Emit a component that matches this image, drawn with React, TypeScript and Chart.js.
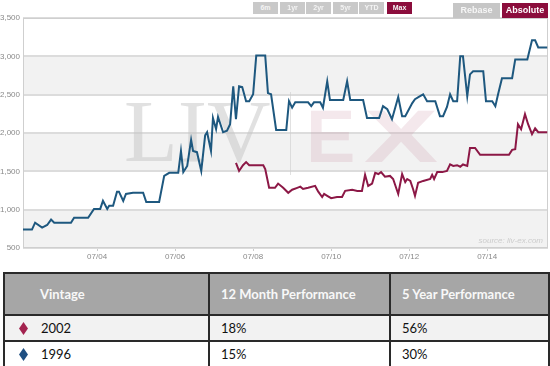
import React, { useEffect, useRef } from "react";
import { Chart, registerables } from "chart.js";

Chart.register(...registerables);

// ---- data (x = decimal year, y = price) ----
const vintage1996Dates = [
  2002.6, 2002.83, 2002.91, 2003.09, 2003.22, 2003.32, 2003.4, 2003.83, 2003.91, 2004.27,
  2004.42, 2004.58, 2004.65, 2004.76, 2004.81, 2004.91, 2005.01, 2005.06, 2005.17, 2005.24,
  2005.42, 2005.68, 2005.76, 2006.09, 2006.22, 2006.35, 2006.58, 2006.65, 2006.71, 2006.81,
  2006.91, 2006.96, 2007.06, 2007.17, 2007.27, 2007.32, 2007.42, 2007.47, 2007.55, 2007.6,
  2007.73, 2007.83, 2007.91, 2007.99, 2008.06, 2008.14, 2008.22, 2008.32, 2008.4, 2008.5,
  2008.58, 2008.81, 2008.88, 2008.96, 2009.09, 2009.35, 2009.42, 2009.5, 2009.58, 2009.91,
  2009.99, 2010.06, 2010.22, 2010.29, 2010.4, 2010.47, 2010.81, 2010.91, 2010.99, 2011.32,
  2011.42, 2011.73, 2011.83, 2011.94, 2012.06, 2012.22, 2012.32, 2012.4, 2012.58, 2012.65,
  2012.78, 2012.86, 2012.96, 2013.17, 2013.29, 2013.37, 2013.47, 2013.55, 2013.63, 2013.73,
  2013.81, 2013.88, 2013.99, 2014.06, 2014.14, 2014.4, 2014.47, 2014.63, 2014.71, 2014.78,
  2014.88, 2015.14, 2015.22, 2015.53, 2015.65, 2015.73, 2015.81, 2016.04,
];
const vintage1996Values = [
  740, 740, 830, 765, 800, 870, 830, 830, 895, 895,
  1010, 1010, 1115, 1010, 1050, 1050, 1235, 1235, 1115, 1205,
  1220, 1220, 1100, 1100, 1440, 1480, 1480, 1765, 1490, 1570,
  1910, 1765, 1750, 1505, 1970, 2010, 1765, 2195, 2050, 2210,
  2010, 2030, 2115, 2610, 2180, 2610, 2600, 2415, 2415, 2505,
  3010, 3010, 2520, 2505, 2040, 2040, 2415, 2330, 2400, 2400,
  2350, 2400, 2400, 2330, 2675, 2430, 2430, 2675, 2430, 2430,
  2195, 2195, 2350, 2310, 2180, 2470, 2220, 2220, 2390, 2440,
  2480, 2505, 2415, 2415, 2220, 2220, 2340, 2505, 2415, 2415,
  3000, 3000, 2480, 2765, 2805, 2805, 2415, 2415, 2350, 2505,
  2715, 2715, 2960, 2960, 3210, 3210, 3115, 3115,
];

const vintage2002Dates = [
  2008.06, 2008.14, 2008.24, 2008.32, 2008.4, 2008.76, 2008.81, 2008.91, 2009.06, 2009.14,
  2009.27, 2009.4, 2009.5, 2009.63, 2009.71, 2009.78, 2009.91, 2010.09, 2010.17, 2010.27,
  2010.32, 2010.4, 2010.5, 2010.65, 2010.78, 2010.86, 2011.04, 2011.17, 2011.29, 2011.37,
  2011.45, 2011.55, 2011.63, 2011.71, 2011.78, 2011.88, 2012.01, 2012.09, 2012.22, 2012.32,
  2012.4, 2012.45, 2012.53, 2012.6, 2012.65, 2012.73, 2012.86, 2013.04, 2013.09, 2013.14,
  2013.22, 2013.35, 2013.47, 2013.55, 2013.63, 2013.73, 2013.81, 2013.88, 2013.99, 2014.06,
  2014.19, 2014.32, 2015.06, 2015.14, 2015.22, 2015.29, 2015.37, 2015.47, 2015.55, 2015.65,
  2015.73, 2015.81, 2016.04,
];
const vintage2002Values = [
  1610, 1505, 1580, 1620, 1580, 1580, 1530, 1285, 1285, 1340,
  1285, 1220, 1260, 1285, 1300, 1270, 1285, 1310, 1235, 1165,
  1205, 1180, 1150, 1165, 1165, 1245, 1260, 1245, 1245, 1455,
  1310, 1340, 1480, 1465, 1490, 1430, 1440, 1400, 1205, 1465,
  1360, 1400, 1375, 1270, 1180, 1350, 1375, 1400, 1455, 1400,
  1490, 1490, 1505, 1590, 1570, 1580, 1560, 1590, 1570, 1805,
  1805, 1715, 1715, 1780, 1790, 2115, 2050, 2245, 2115, 1985,
  2060, 2010, 2010,
];

const xTickYears = [2004.5, 2006.5, 2008.5, 2010.5, 2012.5, 2014.5];
const xTickLabels = ["07/04", "07/06", "07/08", "07/10", "07/12", "07/14"];
const yTickValues = [500, 1000, 1500, 2000, 2500, 3000, 3500];
const shadedBands = [
  [500, 1000],
  [1500, 2000],
  [2500, 3000],
];

const periodButtons = ["6m", "1yr", "2yr", "5yr", "YTD", "Max"];
const tableHeaders = ["Vintage", "12 Month Performance", "5 Year Performance"];
const tableVintages = ["2002", "1996"];
const table12Month = ["18%", "15%"];
const table5Year = ["56%", "30%"];

const BLUE = "#1e587f";
const RED = "#8c1846";
const MAROON = "#8b0d3c";

const decorPlugin = {
  id: "decor",
  beforeDraw(chart: any) {
    const { ctx, chartArea: a, scales } = chart;
    const y = scales.y;
    ctx.save();
    ctx.fillStyle = "#ffffff";
    ctx.fillRect(a.left, a.top, a.right - a.left, a.bottom - a.top);
    ctx.fillStyle = "#f2f2f2";
    for (const [lo, hi] of shadedBands) {
      const t = y.getPixelForValue(hi);
      const b = y.getPixelForValue(lo);
      ctx.fillRect(a.left, t, a.right - a.left, b - t);
    }
    ctx.restore();
  },
  beforeDatasetsDraw(chart: any) {
    const { ctx, chartArea: a } = chart;
    ctx.save();
    // frame
    ctx.strokeStyle = "#cfcfcf";
    ctx.lineWidth = 1;
    ctx.strokeRect(a.left + 0.5, a.top + 0.5, a.right - a.left - 1, a.bottom - a.top - 1);
    // watermark
    ctx.textBaseline = "alphabetic";
    ctx.textAlign = "left";
    ctx.fillStyle = "rgba(195,195,195,0.5)";
    ctx.font = "88px 'Liberation Serif', 'DejaVu Serif', serif";
    ctx.fillText("LIV", 124, 161);
    ctx.fillStyle = "rgba(205,205,205,0.6)";
    ctx.fillRect(290, 92, 1, 83);
    ctx.fillStyle = "rgba(200,140,160,0.2)";
    ctx.font = "bold 74px 'Liberation Sans', Arial, sans-serif";
    ctx.fillText("E", 306, 162);
    ctx.save();
    ctx.translate(364, 162);
    ctx.scale(1.5, 1);
    ctx.fillText("X", 0, 0);
    ctx.restore();
    // source
    ctx.fillStyle = "#cccccc";
    ctx.font = "italic 8px 'Liberation Sans', Arial, sans-serif";
    ctx.textAlign = "right";
    ctx.textBaseline = "middle";
    ctx.fillText("source: liv-ex.com", a.right - 5, a.bottom - 7);
    ctx.restore();
  },
};

function Diamond({ color }: { color: string }) {
  return (
    <svg width="9" height="13" viewBox="0 0 9 13" style={{ display: "block" }}>
      <polygon points="4.5,0 9,6.5 4.5,13 0,6.5" fill={color} />
    </svg>
  );
}

export default function App() {
  const canvasRef = useRef<HTMLCanvasElement | null>(null);

  useEffect(() => {
    document.body.style.margin = "0";
    const canvas = canvasRef.current;
    if (!canvas) return;
    const chart = new Chart(canvas, {
      type: "line",
      data: {
        datasets: [
          {
            label: "1996",
            data: vintage1996Dates.map((d, i) => ({ x: d, y: vintage1996Values[i] })),
            borderColor: BLUE,
            borderWidth: 2,
            pointRadius: 0,
            tension: 0,
            fill: false,
          },
          {
            label: "2002",
            data: vintage2002Dates.map((d, i) => ({ x: d, y: vintage2002Values[i] })),
            borderColor: RED,
            borderWidth: 2,
            pointRadius: 0,
            tension: 0,
            fill: false,
          },
        ],
      },
      options: {
        animation: false,
        responsive: false,
        maintainAspectRatio: false,
        layout: { padding: { top: 18, right: 2, left: 0, bottom: 0 } },
        plugins: {
          legend: { display: false },
          tooltip: { enabled: false },
        },
        scales: {
          x: {
            type: "linear",
            min: 2002.6,
            max: 2016.06,
            afterBuildTicks: (scale: any) => {
              scale.ticks = xTickYears.map((v) => ({ value: v }));
            },
            afterFit: (scale: any) => {
              scale.height = 18;
            },
            ticks: {
              autoSkip: false,
              maxRotation: 0,
              padding: 1,
              color: "#8a8a8a",
              font: { family: "'Liberation Sans', Arial, sans-serif", size: 8 },
              callback: (v: any) => {
                const i = xTickYears.indexOf(Number(v));
                return i >= 0 ? xTickLabels[i] : "";
              },
            },
            grid: { drawOnChartArea: false, drawTicks: true, tickLength: 3, color: "#cccccc" },
            border: { display: false },
          },
          y: {
            min: 500,
            max: 3500,
            afterBuildTicks: (scale: any) => {
              scale.ticks = yTickValues.map((v) => ({ value: v }));
            },
            afterFit: (scale: any) => {
              scale.width = 23;
            },
            ticks: {
              padding: 3,
              color: "#8a8a8a",
              font: { family: "'Liberation Sans', Arial, sans-serif", size: 8 },
              callback: (v: any) => Number(v).toLocaleString("en-US"),
            },
            grid: { color: "#dcdcdc", lineWidth: 2, drawTicks: false },
            border: { display: false },
          },
        },
      },
      plugins: [decorPlugin],
    } as any);
    return () => chart.destroy();
  }, []);

  const btnBase: React.CSSProperties = {
    position: "absolute",
    top: 2,
    height: 12,
    width: 25,
    background: "#c9c9c9",
    color: "#f4f4f4",
    fontFamily: "'Liberation Sans', Arial, sans-serif",
    fontSize: 7,
    fontWeight: "bold",
    lineHeight: "12px",
    textAlign: "center",
  };
  const btnLefts = [253, 280, 306, 333, 359, 387];

  const cell: React.CSSProperties = {
    border: "2px solid #2a2a2a",
    padding: 0,
    verticalAlign: "middle",
    fontFamily: "Lato, 'Open Sans', sans-serif",
    fontSize: 13,
  };

  return (
    <div style={{ position: "relative", width: 550, height: 366, overflow: "hidden", background: "#fff" }}>
      <canvas ref={canvasRef} width={550} height={266} style={{ position: "absolute", left: 0, top: 0, width: 550, height: 266 }} />
      {periodButtons.map((b, i) => (
        <div
          key={b}
          style={{ ...btnBase, left: btnLefts[i], background: b === "Max" ? MAROON : "#c9c9c9" }}
        >
          {b}
        </div>
      ))}
      <div
        style={{
          position: "absolute",
          left: 453,
          top: 3,
          width: 47,
          height: 15,
          background: "#c6c6c6",
          color: "#f6f6f6",
          fontFamily: "'Liberation Sans', Arial, sans-serif",
          fontSize: 9,
          fontWeight: "bold",
          lineHeight: "15px",
          textAlign: "center",
        }}
      >
        Rebase
      </div>
      <div
        style={{
          position: "absolute",
          left: 502,
          top: 3,
          width: 46,
          height: 15,
          background: MAROON,
          color: "#ffffff",
          fontFamily: "'Liberation Sans', Arial, sans-serif",
          fontSize: 9,
          fontWeight: "bold",
          lineHeight: "15px",
          textAlign: "center",
        }}
      >
        Absolute
      </div>

      <table
        style={{
          position: "absolute",
          left: 3,
          top: 272,
          width: 545,
          borderCollapse: "collapse",
          tableLayout: "fixed",
        }}
      >
        <colgroup>
          <col style={{ width: 205 }} />
          <col style={{ width: 181 }} />
          <col style={{ width: 159 }} />
        </colgroup>
        <thead>
          <tr style={{ height: 42, background: "#a6a6a6" }}>
            {tableHeaders.map((h, i) => (
              <th
                key={h}
                style={{
                  ...cell,
                  color: "#f8f8f8",
                  fontWeight: "bold",
                  textAlign: "left",
                  paddingLeft: i === 0 ? 35 : 11,
                }}
              >
                {h}
              </th>
            ))}
          </tr>
        </thead>
        <tbody>
          {tableVintages.map((v, r) => (
            <tr key={v} style={{ height: 26, background: r === 0 ? "#f2f2f2" : "#ffffff" }}>
              <td style={{ ...cell, color: "#111" }}>
                <div style={{ display: "flex", alignItems: "center" }}>
                  <div style={{ width: 35, display: "flex", justifyContent: "center", paddingLeft: 1 }}>
                    <Diamond color={r === 0 ? "#a3234f" : "#1f4f82"} />
                  </div>
                  <span>{v}</span>
                </div>
              </td>
              <td style={{ ...cell, color: "#111", paddingLeft: 11 }}>{table12Month[r]}</td>
              <td style={{ ...cell, color: "#111", paddingLeft: 11 }}>{table5Year[r]}</td>
            </tr>
          ))}
        </tbody>
      </table>
    </div>
  );
}
